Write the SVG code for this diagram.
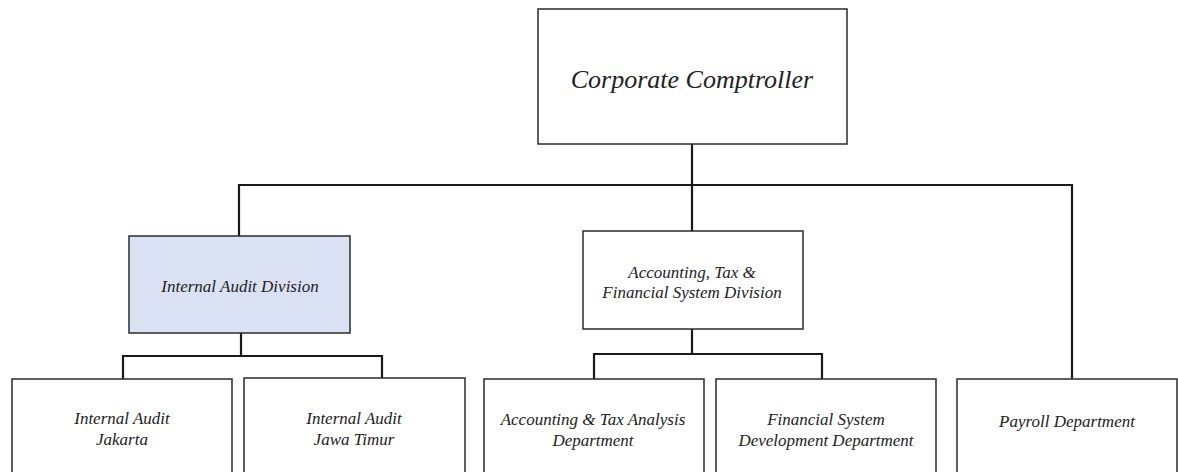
<svg xmlns="http://www.w3.org/2000/svg" width="1178" height="472" viewBox="0 0 1178 472">
<style>
.box{fill:#ffffff;stroke:#2b2b2b;stroke-width:1.5}
.hl{fill:#d9e1f2}
.t{font-family:"Liberation Serif","Times New Roman",serif;font-style:italic;fill:#222;text-anchor:middle}
.s{font-size:17px}
.l{font-size:26px}
.c{fill:none;stroke:#1a1a1a;stroke-width:2.2}
</style>
<rect width="1178" height="472" fill="#ffffff"/>
<g id="connectors">
<path class="c" d="M692,144 V185"/>
<path class="c" d="M239,236 V185 H1072 V379"/>
<path class="c" d="M692,185 V231"/>
<path class="c" d="M241,333 V356"/>
<path class="c" d="M123,379 V356 H382 V379"/>
<path class="c" d="M692,329 V354"/>
<path class="c" d="M594,379 V354 H822 V379"/>
</g>
<g id="corporate-comptroller">
<rect class="box" x="538" y="9" width="309" height="135"/>
<text class="t l" x="692" y="88">Corporate Comptroller</text>
</g>
<g id="internal-audit-division">
<rect class="box hl" x="129" y="236" width="221" height="97"/>
<text class="t s" x="240" y="292">Internal Audit Division</text>
</g>
<g id="accounting-tax-division">
<rect class="box" x="583" y="231" width="220" height="98"/>
<text class="t s" x="692" y="278">Accounting, Tax &amp;</text>
<text class="t s" x="692" y="298">Financial System Division</text>
</g>
<g id="internal-audit-jakarta">
<rect class="box" x="12" y="379" width="220" height="110"/>
<text class="t s" x="122" y="424">Internal Audit</text>
<text class="t s" x="122" y="445">Jakarta</text>
</g>
<g id="internal-audit-jawa-timur">
<rect class="box" x="244" y="378" width="221" height="110"/>
<text class="t s" x="354" y="424">Internal Audit</text>
<text class="t s" x="354" y="445">Jawa Timur</text>
</g>
<g id="accounting-tax-analysis">
<rect class="box" x="484" y="379" width="220" height="110"/>
<text class="t s" x="593" y="425">Accounting &amp; Tax Analysis</text>
<text class="t s" x="593" y="446">Department</text>
</g>
<g id="financial-system-development">
<rect class="box" x="716" y="379" width="220" height="110"/>
<text class="t s" x="826" y="425">Financial System</text>
<text class="t s" x="826" y="446">Development Department</text>
</g>
<g id="payroll-department">
<rect class="box" x="957" y="379" width="220" height="110"/>
<text class="t s" x="1067" y="427">Payroll Department</text>
</g>
</svg>
